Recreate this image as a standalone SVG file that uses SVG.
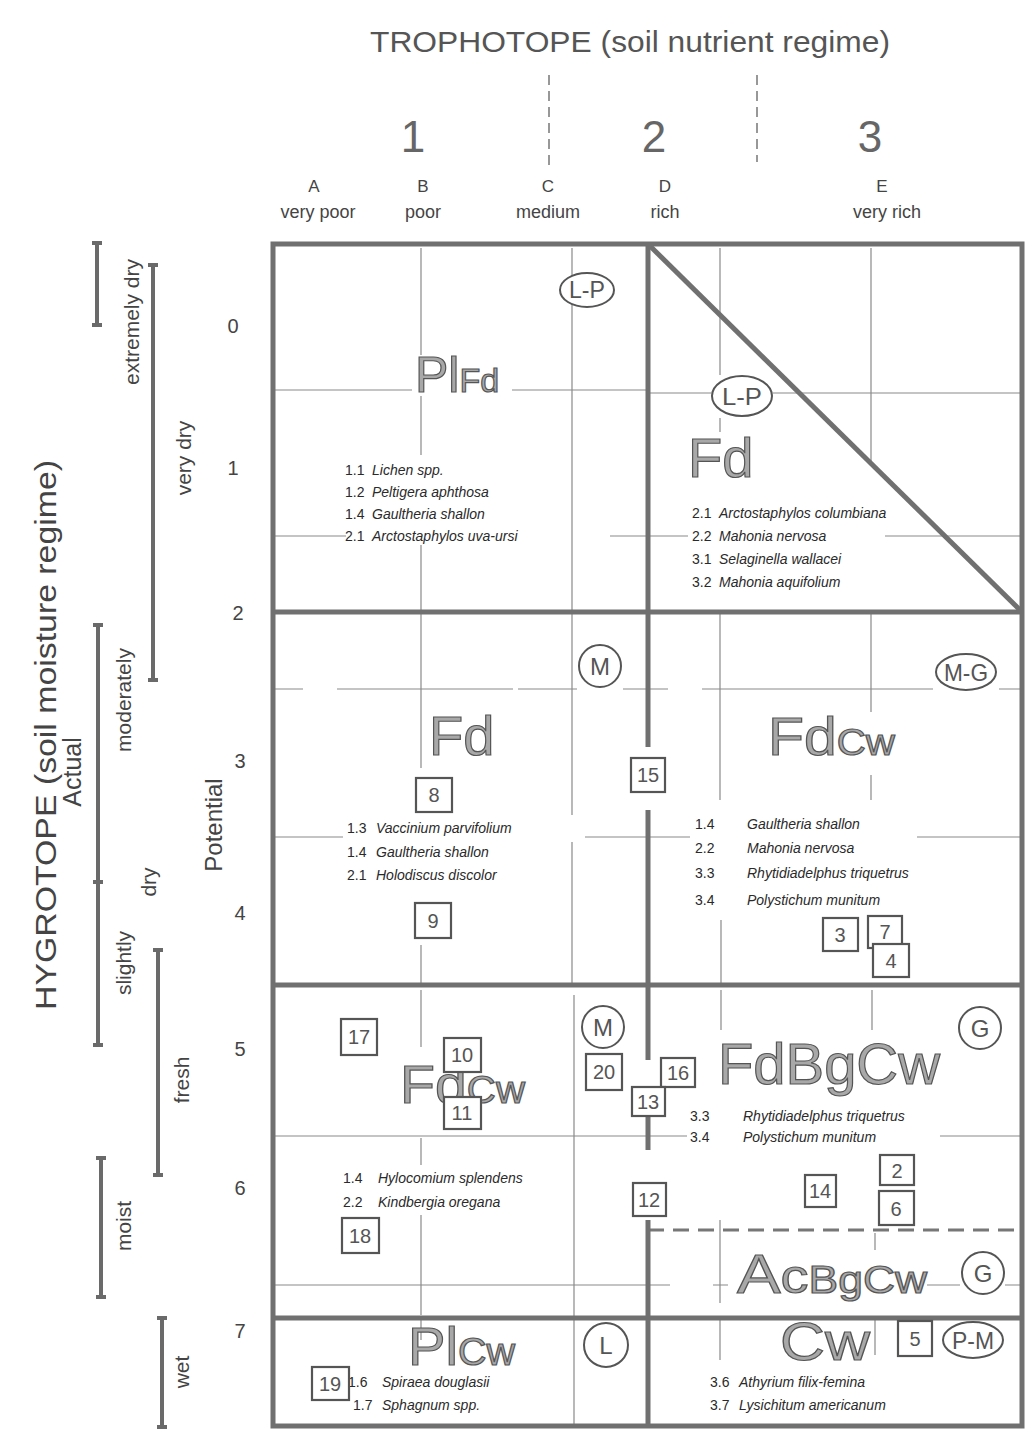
<svg xmlns="http://www.w3.org/2000/svg" width="1025" height="1430" viewBox="0 0 1025 1430">
<style>
text{font-family:"Liberation Sans",Arial,sans-serif;fill:#444}
.hd{font-size:30px;fill:#555}
.big{font-size:44px;fill:#666}
.let{font-size:17px}
.lab{font-size:18px}
.ax{font-size:21px}
.rn{font-size:20px}
.sp text{font-size:14px;fill:#2a2a2a}
.it{font-style:italic}
.L{fill:#a8a8a8;stroke:#555;stroke-width:1.2}
.thick{stroke:#707070;stroke-width:5;fill:none}
.thin{stroke:#8a8a8a;stroke-width:1.2;fill:none}
.bar{stroke:#6a6a6a;stroke-width:4;fill:none}
.box rect{fill:#fff;stroke:#555;stroke-width:2.2}
.box text{font-size:20px;text-anchor:middle;fill:#555}
.ring{fill:#fff;stroke:#555;stroke-width:2}
.rt{font-size:24px;text-anchor:middle;fill:#555}
</style>

<g id="header">
<text class="hd" x="630" y="52" text-anchor="middle" textLength="520" lengthAdjust="spacingAndGlyphs">TROPHOTOPE (soil nutrient regime)</text>
<line x1="549" y1="75" x2="549" y2="165" stroke="#777" stroke-width="1.5" stroke-dasharray="10 6"/>
<line x1="757" y1="75" x2="757" y2="162" stroke="#777" stroke-width="1.5" stroke-dasharray="10 6"/>
<text class="big" x="413" y="152" text-anchor="middle">1</text>
<text class="big" x="654" y="152" text-anchor="middle">2</text>
<text class="big" x="870" y="152" text-anchor="middle">3</text>
<g text-anchor="middle">
<text class="let" x="314" y="192">A</text><text class="lab" x="318" y="218">very poor</text>
<text class="let" x="423" y="192">B</text><text class="lab" x="423" y="218">poor</text>
<text class="let" x="548" y="192">C</text><text class="lab" x="548" y="218">medium</text>
<text class="let" x="665" y="192">D</text><text class="lab" x="665" y="218">rich</text>
<text class="let" x="882" y="192">E</text><text class="lab" x="887" y="218">very rich</text>
</g>
</g>

<g id="left-axis">
<text transform="translate(56,735) rotate(-90)" font-size="30" text-anchor="middle" fill="#555" textLength="550" lengthAdjust="spacingAndGlyphs">HYGROTOPE (soil moisture regime)</text>
<text transform="translate(81,772) rotate(-90)" font-size="25" text-anchor="middle" fill="#555">Actual</text>
<text transform="translate(222,825) rotate(-90)" font-size="24" text-anchor="middle" fill="#555">Potential</text>
<g class="bar">
<path d="M97 243V325M92 243h10M92 325h10"/>
<path d="M153 265V680M148 265h10M148 680h10"/>
<path d="M98 625V1045M93 625h10M93 882h10M93 1045h10"/>
<path d="M158 950V1175M153 950h10M153 1175h10"/>
<path d="M101 1158V1297M96 1158h10M96 1297h10"/>
<path d="M162 1318V1427M157 1318h10M157 1427h10"/>
</g>
<g class="ax" text-anchor="middle">
<text transform="translate(139,322) rotate(-90)">extremely dry</text>
<text transform="translate(191,458) rotate(-90)">very dry</text>
<text transform="translate(131,700) rotate(-90)">moderately</text>
<text transform="translate(156,882) rotate(-90)">dry</text>
<text transform="translate(131,963) rotate(-90)">slightly</text>
<text transform="translate(189,1080) rotate(-90)">fresh</text>
<text transform="translate(131,1226) rotate(-90)">moist</text>
<text transform="translate(189,1372) rotate(-90)">wet</text>
</g>
<g class="rn" text-anchor="middle">
<text x="233" y="333">0</text>
<text x="233" y="475">1</text>
<text x="238" y="620">2</text>
<text x="240" y="768">3</text>
<text x="240" y="920">4</text>
<text x="240" y="1056">5</text>
<text x="240" y="1195">6</text>
<text x="240" y="1338">7</text>
</g>
</g>

<g id="connectors">
<g class="thin">
<path d="M421 248V355M421 396V455M421 545V610M421 614V768M421 945V983M421 990V1047M421 1138V1165M421 1215V1315M421 1320V1340"/>
<path d="M572 248V612M572 614V815M572 842V985M574 995V1318M574 1320V1426"/>
<path d="M720 248V375M720 418V432M720 614V800M721 920V983M721 990V1030M720 1220V1303M720 1320V1360"/>
<path d="M871 248V464M871 614V712M871 775V800M872 990V1030M875 1233V1250M875 1320V1355"/>
<path d="M273 390H412M512 390H648M648 393H711M773 393H1022"/>
<path d="M273 536H346M610 536H688M885 536H1022"/>
<path d="M273 689H303M337 689H513M518 689H577M623 689H668M702 689H933M999 689H1022"/>
<path d="M273 837H343M585 837H690M917 837H1022"/>
<path d="M273 1136H687M940 1136H1022"/>
<path d="M273 1285H670M713 1285H728M927 1285H960M1005 1285H1022"/>
<path d="M648 1230H1022" stroke-width="3" stroke-dasharray="16 9" stroke="#777"/>
</g>
<g class="thick">
<rect x="273" y="244" width="749" height="1182"/>
<path d="M273 612H1022M273 985H1022M273 1318H1022"/>
<path d="M648 244V747M648 810V1060M648 1117V1150M648 1220V1426"/>
<path d="M650 246L1020 610"/>
</g>
</g>

<g id="cell-PlFd">
<g id="r-LP1"><ellipse class="ring" cx="587" cy="290" rx="27" ry="17"/><text class="rt" x="587" y="298" textLength="36" lengthAdjust="spacingAndGlyphs">L-P</text></g>
<text x="415" y="392"><tspan class="L" font-size="50">Pl</tspan><tspan class="L" font-size="34">Fd</tspan></text>
<g class="sp">
<text x="345" y="475">1.1</text><text class="it" x="372" y="475">Lichen spp.</text>
<text x="345" y="497">1.2</text><text class="it" x="372" y="497">Peltigera aphthosa</text>
<text x="345" y="519">1.4</text><text class="it" x="372" y="519">Gaultheria shallon</text>
<text x="345" y="541">2.1</text><text class="it" x="372" y="541">Arctostaphylos  uva-ursi</text>
</g>
</g>

<g id="cell-Fd-top">
<g id="r-LP2"><ellipse class="ring" cx="742" cy="396" rx="30" ry="20"/><text class="rt" x="742" y="405" textLength="40" lengthAdjust="spacingAndGlyphs">L-P</text></g>
<text class="L" x="688" y="477" font-size="56">Fd</text>
<g class="sp">
<text x="692" y="518">2.1</text><text class="it" x="719" y="518">Arctostaphylos  columbiana</text>
<text x="692" y="541">2.2</text><text class="it" x="719" y="541">Mahonia nervosa</text>
<text x="692" y="564">3.1</text><text class="it" x="719" y="564">Selaginella wallacei</text>
<text x="692" y="587">3.2</text><text class="it" x="719" y="587">Mahonia aquifolium</text>
</g>
</g>

<g id="cell-Fd-mid">
<g id="r-M1"><circle class="ring" cx="600" cy="666" r="21"/><text class="rt" x="600" y="675">M</text></g>
<text class="L" x="429" y="755" font-size="56">Fd</text>
<g class="sp">
<text x="347" y="833">1.3</text><text class="it" x="376" y="833">Vaccinium parvifolium</text>
<text x="347" y="857">1.4</text><text class="it" x="376" y="857">Gaultheria shallon</text>
<text x="347" y="880">2.1</text><text class="it" x="376" y="880">Holodiscus discolor</text>
</g>
</g>

<g id="cell-FdCw-mid">
<g id="r-MG"><ellipse class="ring" cx="966" cy="672" rx="30" ry="18"/><text class="rt" x="966" y="681" textLength="44" lengthAdjust="spacingAndGlyphs">M-G</text></g>
<text x="768" y="755" textLength="127" lengthAdjust="spacingAndGlyphs"><tspan class="L" font-size="54">Fd</tspan><tspan class="L" font-size="37">Cw</tspan></text>
<g class="sp">
<text x="695" y="829">1.4</text><text class="it" x="747" y="829">Gaultheria shallon</text>
<text x="695" y="853">2.2</text><text class="it" x="747" y="853">Mahonia nervosa</text>
<text x="695" y="878">3.3</text><text class="it" x="747" y="878">Rhytidiadelphus triquetrus</text>
<text x="695" y="905">3.4</text><text class="it" x="747" y="905">Polystichum munitum</text>
</g>
</g>

<g id="cell-FdCw-low">
<g id="r-M2"><circle class="ring" cx="603" cy="1027" r="21"/><text class="rt" x="603" y="1036">M</text></g>
<text x="400" y="1103" textLength="125" lengthAdjust="spacingAndGlyphs"><tspan class="L" font-size="54">Fd</tspan><tspan class="L" font-size="38">Cw</tspan></text>
<g class="sp">
<text x="343" y="1183">1.4</text><text class="it" x="378" y="1183">Hylocomium splendens</text>
<text x="343" y="1207">2.2</text><text class="it" x="378" y="1207">Kindbergia oregana</text>
</g>
</g>

<g id="cell-FdBgCw">
<g id="r-G1"><circle class="ring" cx="980" cy="1028" r="21"/><text class="rt" x="980" y="1037">G</text></g>
<text class="L" x="718" y="1084" font-size="57" textLength="222" lengthAdjust="spacingAndGlyphs">FdBgCw</text>
<g class="sp">
<text x="690" y="1121">3.3</text><text class="it" x="743" y="1121">Rhytidiadelphus triquetrus</text>
<text x="690" y="1142">3.4</text><text class="it" x="743" y="1142">Polystichum munitum</text>
</g>
</g>

<g id="cell-AcBgCw">
<g id="r-G2"><circle class="ring" cx="983" cy="1273" r="21"/><text class="rt" x="983" y="1282">G</text></g>
<text x="737" y="1293" textLength="190" lengthAdjust="spacingAndGlyphs"><tspan class="L" font-size="56">A</tspan><tspan class="L" font-size="48">c</tspan><tspan class="L" font-size="38">BgCw</tspan></text>
</g>

<g id="cell-PlCw">
<g id="r-L"><circle class="ring" cx="606" cy="1345" r="22"/><text class="rt" x="606" y="1354">L</text></g>
<text x="408" y="1365" textLength="107" lengthAdjust="spacingAndGlyphs"><tspan class="L" font-size="54">Pl</tspan><tspan class="L" font-size="38">Cw</tspan></text>
<g class="sp">
<text x="348" y="1387">1.6</text><text class="it" x="382" y="1387">Spiraea douglasii</text>
<text x="353" y="1410">1.7</text><text class="it" x="382" y="1410">Sphagnum spp.</text>
</g>
</g>

<g id="cell-Cw">
<g id="r-PM"><ellipse class="ring" cx="973" cy="1340" rx="30" ry="18"/><text class="rt" x="973" y="1349" textLength="42" lengthAdjust="spacingAndGlyphs">P-M</text></g>
<text class="L" x="780" y="1360" font-size="53" textLength="90" lengthAdjust="spacingAndGlyphs">Cw</text>
<g class="sp">
<text x="710" y="1387">3.6</text><text class="it" x="739" y="1387">Athyrium filix-femina</text>
<text x="710" y="1410">3.7</text><text class="it" x="739" y="1410">Lysichitum americanum</text>
</g>
</g>

<g id="plots" class="box">
<g id="p8"><rect x="416" y="778" width="36" height="34"/><text x="434" y="802">8</text></g>
<g id="p9"><rect x="415" y="903" width="36" height="35"/><text x="433" y="928">9</text></g>
<g id="p15"><rect x="631" y="758" width="34" height="34"/><text x="648" y="782">15</text></g>
<g id="p3"><rect x="823" y="918" width="35" height="33"/><text x="840" y="942">3</text></g>
<g id="p7"><rect x="868" y="916" width="34" height="32"/><text x="885" y="939">7</text></g>
<g id="p4"><rect x="873" y="944" width="36" height="33"/><text x="891" y="968">4</text></g>
<g id="p17"><rect x="341" y="1019" width="36" height="36"/><text x="359" y="1044">17</text></g>
<g id="p10"><rect x="444" y="1038" width="37" height="34"/><text x="462" y="1062">10</text></g>
<g id="p11"><rect x="444" y="1097" width="37" height="32"/><text x="462" y="1120">11</text></g>
<g id="p20"><rect x="586" y="1054" width="36" height="36"/><text x="604" y="1079">20</text></g>
<g id="p16"><rect x="661" y="1058" width="34" height="29"/><text x="678" y="1080">16</text></g>
<g id="p13"><rect x="632" y="1087" width="33" height="29"/><text x="648" y="1109">13</text></g>
<g id="p2"><rect x="880" y="1155" width="34" height="30"/><text x="897" y="1178">2</text></g>
<g id="p6"><rect x="879" y="1191" width="35" height="34"/><text x="896" y="1216">6</text></g>
<g id="p14"><rect x="805" y="1175" width="31" height="32"/><text x="820" y="1198">14</text></g>
<g id="p12"><rect x="633" y="1183" width="33" height="33"/><text x="649" y="1207">12</text></g>
<g id="p18"><rect x="342" y="1218" width="37" height="35"/><text x="360" y="1243">18</text></g>
<g id="p19"><rect x="312" y="1367" width="37" height="33"/><text x="330" y="1391">19</text></g>
<g id="p5"><rect x="898" y="1321" width="34" height="35"/><text x="915" y="1346">5</text></g>
</g>
</svg>
